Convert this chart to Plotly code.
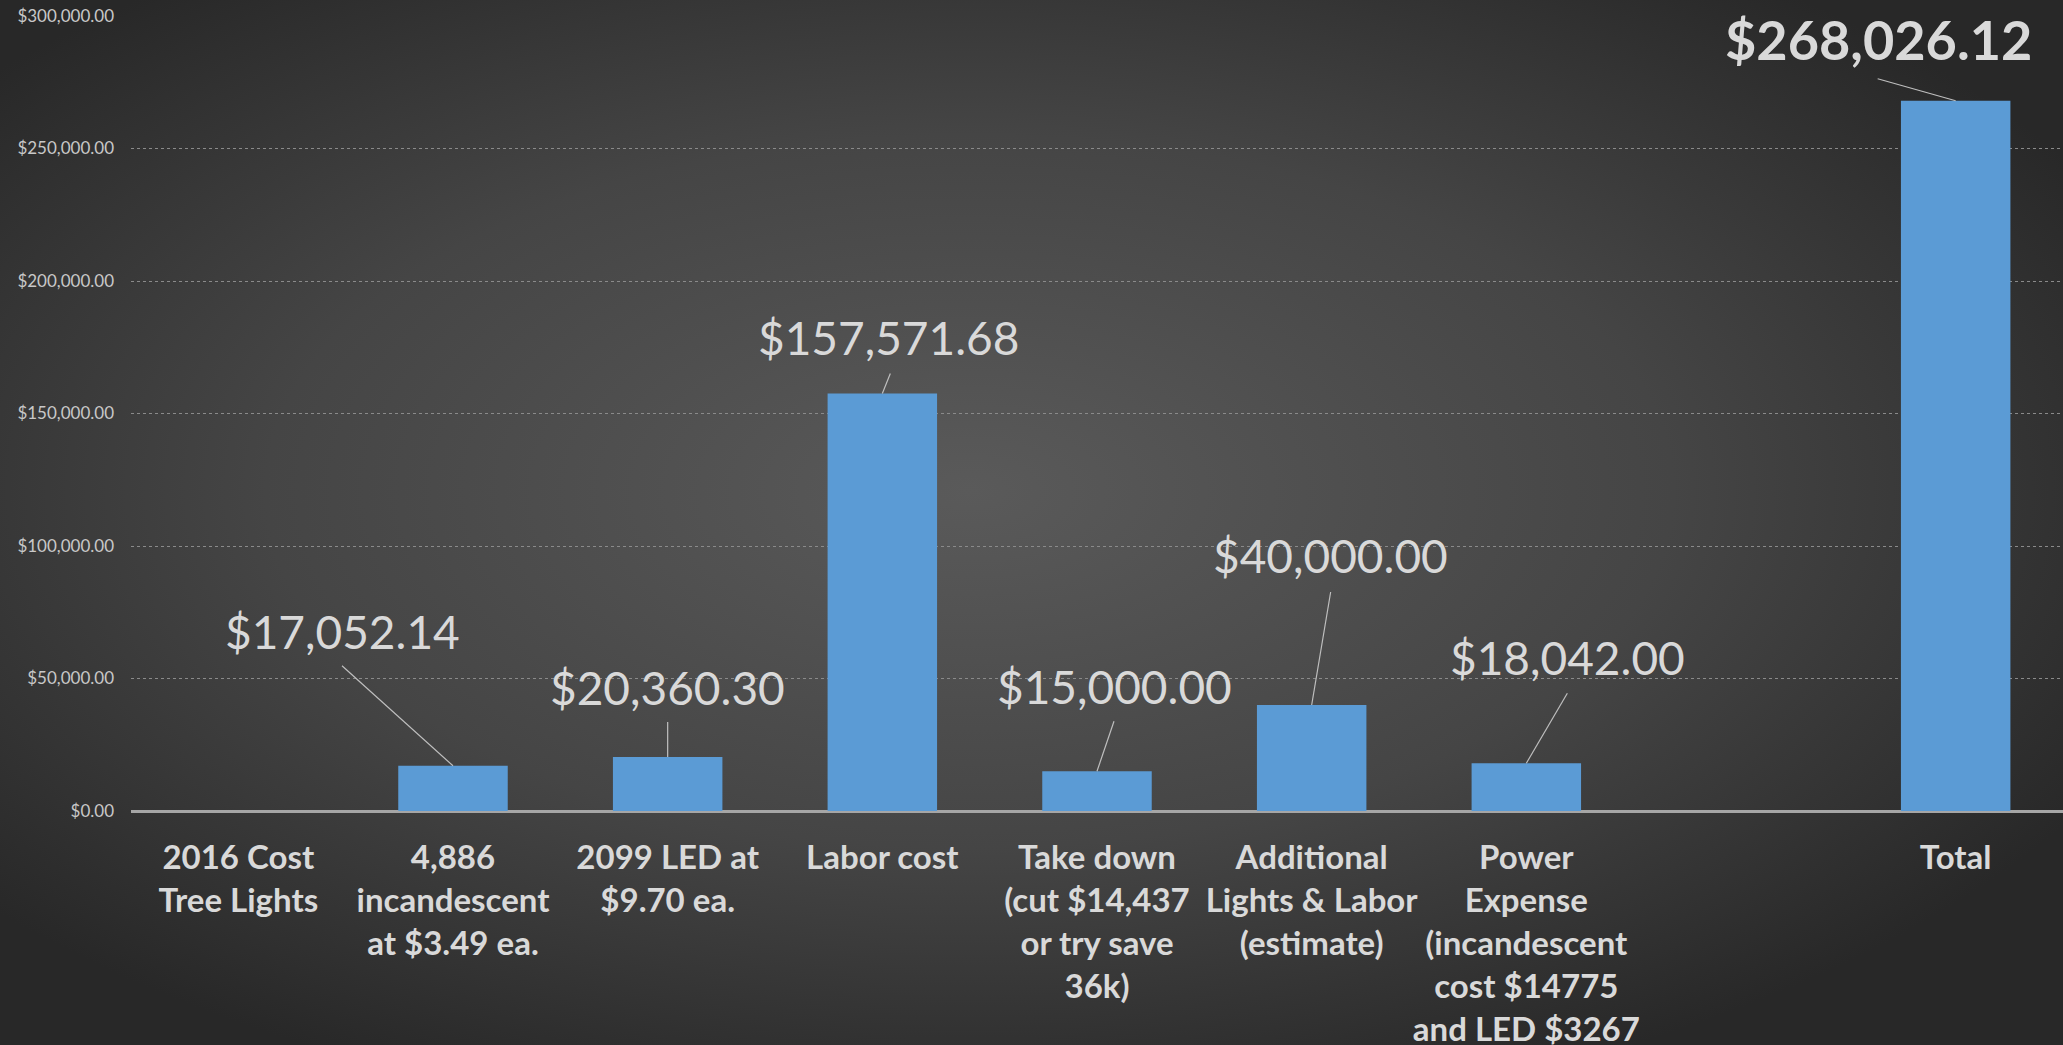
import base64
import plotly.graph_objects as go

# ---- data ----
categories = [
    "2016 Cost<br>Tree Lights",
    "4,886<br>incandescent<br>at $3.49 ea.",
    "2099 LED at<br>$9.70 ea.",
    "Labor cost",
    "Take down<br>(cut $14,437<br>or try save<br>36k)",
    "Additional<br>Lights & Labor<br>(estimate)",
    "Power<br>Expense<br>(incandescent<br>cost $14775<br>and LED $3267",
    " ",
    "Total",
]
values = [None, 17052.14, 20360.30, 157571.68, 15000.00, 40000.00, 18042.00, None, 268026.12]
y_ticks = [0, 50000, 100000, 150000, 200000, 250000, 300000]

# ---- label layout (pixel offsets from bar top: text centre, leader-line end) ----
text_offsets = [None, (-111, 134), (0, 70), (6, 56), (17, 85), (19, 150), (41, 106), None, (-77, 61)]
line_offsets = [None, (-111, 100), (0, 35), (8, 20), (17, 50), (19, 113), (41, 70), None, (-78, 22)]

W, H = 2063, 1045
ML, MR, MT, MB = 131, 0, 16, 234
PW, PH = W - ML - MR, H - MT - MB

FONT = "Lato"
TXT = "#d9d9d9"

svg = f"""<svg xmlns='http://www.w3.org/2000/svg' width='{W}' height='{H}' viewBox='0 0 {W} {H}' preserveAspectRatio='none'>
<defs><radialGradient id='g' cx='0.47' cy='0.47' r='0.62'>
<stop offset='0' stop-color='#5a5a5a'/><stop offset='0.55' stop-color='#454545'/><stop offset='1' stop-color='#282828'/>
</radialGradient></defs><rect width='{W}' height='{H}' fill='url(#g)'/></svg>"""
bg_src = "data:image/svg+xml;base64," + base64.b64encode(svg.encode()).decode()

fig = go.Figure()
fig.add_trace(go.Bar(
    x=categories, y=values,
    marker=dict(color="#5b9bd5", line=dict(width=0)),
    hoverinfo="skip",
))

annotations = []
shapes = []
for cat, v, to, lo in zip(categories, values, text_offsets, line_offsets):
    if v is None:
        continue
    is_total = cat == "Total"
    annotations.append(dict(
        x=cat, y=v, xref="x", yref="y", showarrow=False,
        text=(f"<b>${v:,.2f}</b>" if is_total else f"${v:,.2f}"),
        xshift=to[0], yshift=to[1], xanchor="center", yanchor="middle",
        font=dict(family=FONT, size=54 if is_total else 46, color=TXT),
    ))
    shapes.append(dict(
        type="line", xref="x", yref="y", xsizemode="pixel", ysizemode="pixel",
        xanchor=cat, yanchor=v, x0=0, y0=0, x1=lo[0], y1=lo[1],
        line=dict(color="#bfbfbf", width=1.2),
    ))

fig.update_layout(
    width=W, height=H, autosize=False,
    margin=dict(l=ML, r=MR, t=MT, b=MB, pad=0),
    paper_bgcolor="#303030", plot_bgcolor="rgba(0,0,0,0)",
    showlegend=False, bargap=0.49,
    font=dict(family=FONT, color=TXT),
    annotations=annotations, shapes=shapes,
    images=[dict(
        source=bg_src, xref="paper", yref="paper",
        x=-ML / PW, y=1 + MT / PH, sizex=W / PW, sizey=H / PH,
        xanchor="left", yanchor="top", sizing="stretch", layer="below",
    )],
    xaxis=dict(
        type="category", categoryorder="array", categoryarray=categories,
        range=[-0.5, len(categories) - 0.5],
        showgrid=False, zeroline=False, showline=False, ticks="",
        tickangle=0,
        tickfont=dict(family=FONT, size=33, color=TXT, weight="bold"),
        ticklabelstandoff=24, automargin=False,
    ),
    yaxis=dict(
        range=[0, 300000], tickvals=y_ticks, tickformat="$,.2f",
        showgrid=True, gridcolor="#8a8a8a", griddash="dot", gridwidth=1,
        zeroline=True, zerolinecolor="#a6a6a6", zerolinewidth=3,
        showline=False, ticks="",
        tickfont=dict(family=FONT, size=17, color="#c8c8c8"),
        ticklabelstandoff=16, automargin=False,
    ),
)

fig.write_html(
    "out.html",
    config={"displayModeBar": False},
    post_script="document.body.style.margin='0';document.body.style.background='#2a2a2a';",
)
